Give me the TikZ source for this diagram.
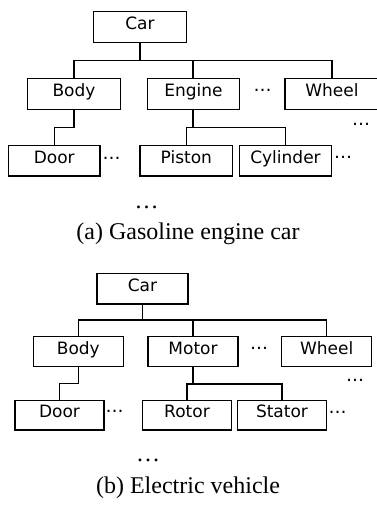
\documentclass[tikz,border=0pt]{standalone}
\usepackage{fontspec}
\setmainfont{Liberation Serif}
\newfontfamily\boxfont{DejaVu Sans}
\begin{document}
\begin{tikzpicture}[x=1pt,y=-1pt,
  bx/.style={draw, line width=1.3pt, inner sep=0pt, text height=9.5pt, text depth=4.5pt,
    font=\boxfont\fontsize{17}{20}\selectfont},
  ln/.style={line width=1.3pt},
  sdots/.style={inner sep=0pt, font=\boxfont\fontsize{18}{20}\selectfont},
  tdots/.style={inner sep=0pt, font=\fontsize{24}{28}\selectfont},
  captxt/.style={inner sep=0pt, font=\fontsize{24}{28}\selectfont}]
\useasboundingbox (0,0) rectangle (377,506);
% ---------- (a) ----------
\node[bx, minimum width=93.4pt, minimum height=31pt] (carA) at (140,27.2) {Car};
\node[bx, minimum width=93.4pt, minimum height=31.2pt] (bodyA) at (74,93.9) {Body};
\node[bx, minimum width=91.6pt, minimum height=31.2pt] (engA) at (193.5,93.9) {Engine};
\node[bx, minimum width=94pt, minimum height=31.2pt] (wheelA) at (332,93.9) {Wheel};
\node[bx, minimum width=91.7pt, minimum height=30.5pt] (doorA) at (54.2,160.8) {Door};
\node[bx, minimum width=92.7pt, minimum height=30.5pt] (pistA) at (186.3,160.8) {Piston};
\node[bx, minimum width=92.4pt, minimum height=30.5pt] (cylA) at (285.5,160.8) {Cylinder};
\coordinate (busA) at (140,60.7);
\coordinate (bdA) at (74,127.3);
\coordinate (ecA) at (193,127.7);
\draw[ln] (carA.south) -- (busA);
\draw[ln] (bodyA.north) |- (busA);
\draw[ln] ([xshift=-0.5pt]engA.north) |- (busA);
\draw[ln] (wheelA.north) |- (busA);
\draw[ln] (bodyA.south) -- (bdA) -| (doorA.north);
\draw[ln] ([xshift=-0.5pt]engA.south) -- (ecA);
\draw[ln] (pistA.north) |- (ecA);
\draw[ln] (cylA.north) |- (ecA);
\node[sdots] (dA1) at (262.5,90) {…};
\node[sdots] (dA2) at (361,124) {…};
\node[sdots] (dA3) at (111.5,158.3) {…};
\node[sdots] (dA4) at (343,157.3) {…};
\node[tdots] (dA5) at (146.7,207.3) {…};
\node[captxt] (capA) at (188,234) {(a) Gasoline engine car};
% ---------- (b) ----------
\node[bx, minimum width=91pt, minimum height=30.7pt] (carB) at (142.5,288.7) {Car};
\node[bx, minimum width=90pt, minimum height=30pt] (bodyB) at (78.3,351.7) {Body};
\node[bx, minimum width=90pt, minimum height=30pt] (motB) at (193,351.7) {Motor};
\node[bx, minimum width=90pt, minimum height=30pt] (wheelB) at (326.7,351.7) {Wheel};
\node[bx, minimum width=89pt, minimum height=29.3pt] (doorB) at (59.5,415.35) {Door};
\node[bx, minimum width=89.4pt, minimum height=29.3pt] (rotB) at (187,415.35) {Rotor};
\node[bx, minimum width=89.4pt, minimum height=29.3pt] (statB) at (282,415.35) {Stator};
\coordinate (busB) at (142.5,320);
\coordinate (bdB) at (78.3,383.3);
\coordinate (mcB) at (193,384);
\draw[ln] (carB.south) -- (busB);
\draw[ln] (bodyB.north) |- (busB);
\draw[ln] (motB.north) |- (busB);
\draw[ln] (wheelB.north) |- (busB);
\draw[ln] (bodyB.south) -- (bdB) -| (doorB.north);
\draw[ln] (motB.south) -- (mcB);
\draw[ln] (rotB.north) |- (mcB);
\draw[ln] (statB.north) |- (mcB);
\node[sdots] (dB1) at (259,348.3) {…};
\node[sdots] (dB2) at (355,380) {…};
\node[sdots] (dB3) at (114.5,411.7) {…};
\node[sdots] (dB4) at (337.5,412.3) {…};
\node[tdots] (dB5) at (148,460) {…};
\node[captxt] (capB) at (188,487.5) {(b) Electric vehicle};
\end{tikzpicture}
\end{document}
